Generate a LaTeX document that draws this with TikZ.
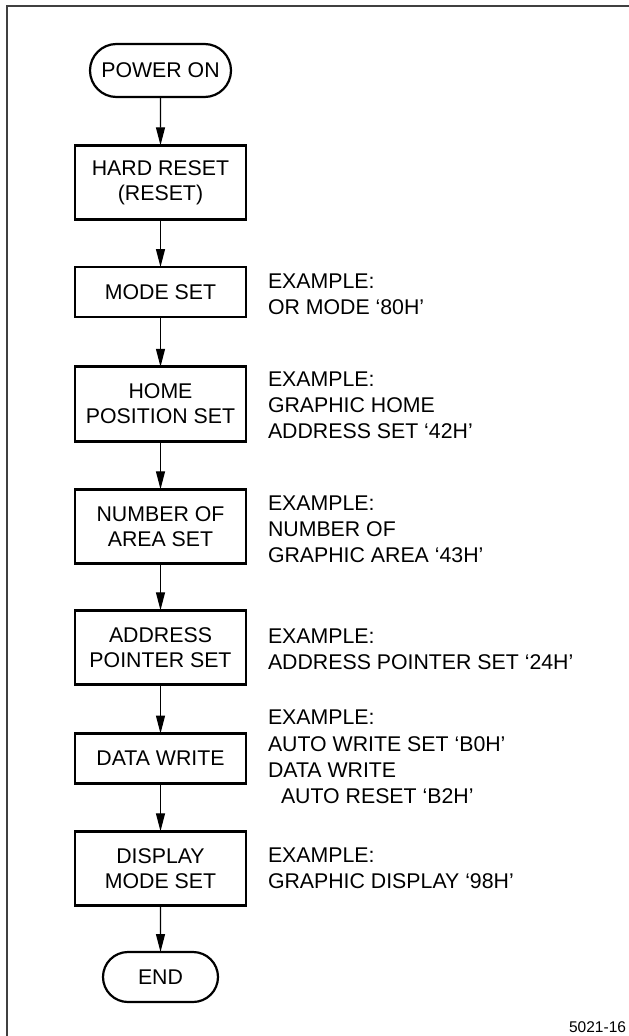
\documentclass[tikz,border=0pt]{standalone}
\usepackage{fontspec}
\setmainfont{Liberation Sans}
\usetikzlibrary{shapes.misc,arrows.meta}

\begin{document}
\begin{tikzpicture}[x=1pt,y=-1pt,
  every node/.style={inner sep=0pt, outer sep=0pt},
  stepbox/.style={draw, line width=2.6pt, minimum width=171pt, align=center,
    font=\fontsize{21.3}{24.8}\selectfont},
  onebox/.style={stepbox, minimum height=50pt},
  twobox/.style={stepbox, minimum height=74.5pt},
  terminal/.style={draw, rounded rectangle, line width=2.2pt,
    font=\fontsize{21.3}{24.8}\selectfont},
  note/.style={anchor=west, align=left, font=\fontsize{21.3}{26.2}\selectfont},
  flow/.style={-{Triangle[length=18pt,width=9pt]}, line width=1.3pt},
  frame/.style={line width=2pt, black!75}
]
\useasboundingbox (0,0) rectangle (629,1036);

% outer frame (top and left edges)
\coordinate (fbl) at (7,1036);
\coordinate (ftl) at (7,6);
\coordinate (ftr) at (629,6);
\draw[frame] (fbl) -- (ftl) -- (ftr);

% flow chart steps
\node[terminal, minimum width=141pt, minimum height=53pt] (pwr) at (160.5,70.5) {POWER ON};
\node[twobox] (hard) at (160.5,182.5) {HARD RESET\\(RESET)};
\node[onebox] (mode) at (160.5,292) {MODE SET};
\node[twobox] (home) at (160.5,404) {HOME\\POSITION SET};
\node[twobox] (area) at (160.5,526.5) {NUMBER OF\\AREA SET};
\node[twobox] (addr) at (160.5,647.5) {ADDRESS\\POINTER SET};
\node[onebox] (data) at (160.5,758.5) {DATA WRITE};
\node[twobox] (disp) at (160.5,868.5) {DISPLAY\\MODE SET};
\node[terminal, minimum width=115pt, minimum height=50pt] (fin) at (160.5,977) {END};

% connectors
\draw[flow] (pwr) -- (hard);
\draw[flow] (hard) -- (mode);
\draw[flow] (mode) -- (home);
\draw[flow] (home) -- (area);
\draw[flow] (area) -- (addr);
\draw[flow] (addr) -- (data);
\draw[flow] (data) -- (disp);
\draw[flow] (disp) -- (fin);

% command examples beside the steps
\node[note] (nmode) at (268,294.5) {EXAMPLE:\\OR MODE ‘80H’};
\node[note] (nhome) at (268,405) {EXAMPLE:\\GRAPHIC HOME\\ADDRESS SET ‘42H’};
\node[note] (narea) at (268,529) {EXAMPLE:\\NUMBER OF\\GRAPHIC AREA ‘43H’};
\node[note] (naddr) at (268,649) {EXAMPLE:\\ADDRESS POINTER SET ‘24H’};
\node[note] (ndata) at (268,757) {EXAMPLE:\\AUTO WRITE SET ‘B0H’\\DATA WRITE\\\hspace*{13pt}AUTO RESET ‘B2H’};
\node[note] (ndisp) at (268,868.4) {EXAMPLE:\\GRAPHIC DISPLAY ‘98H’};

% figure number
\node[anchor=base east, font=\fontsize{15.5}{18}\selectfont] (fignum) at (626,1032.5) {5021-16};
\end{tikzpicture}
\end{document}
